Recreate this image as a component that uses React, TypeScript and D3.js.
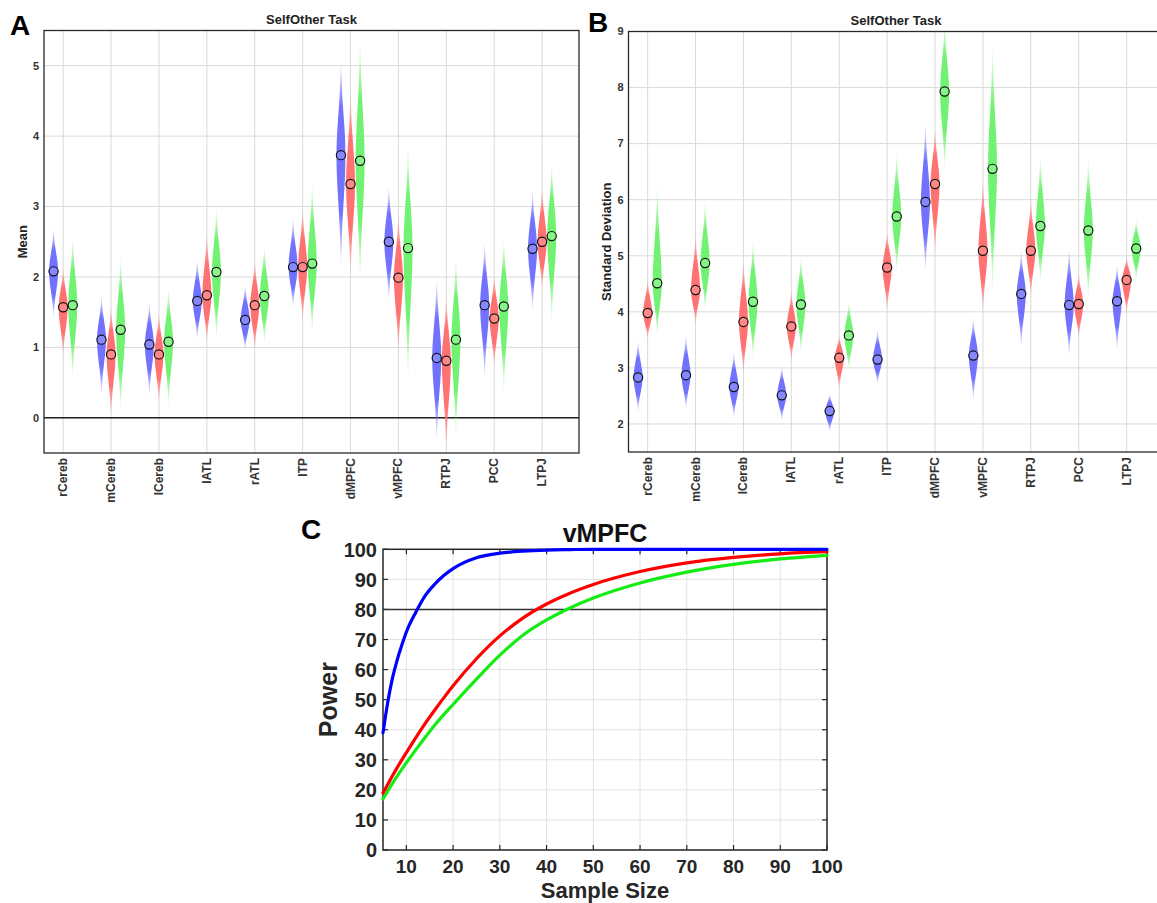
import { useEffect, useRef } from 'react';
import * as d3 from 'd3';

// ---- categories ----
const regions = ['rCereb', 'mCereb', 'lCereb', 'lATL', 'rATL', 'lTP', 'dMPFC', 'vMPFC', 'RTPJ', 'PCC', 'LTPJ'];

// ---- Panel A: Mean (point + violin low/high ends) ----
const meanBlueA = [2.08, 1.11, 1.04, 1.66, 1.39, 2.14, 3.73, 2.5, 0.85, 1.6, 2.4];
const meanRedA = [1.57, 0.9, 0.9, 1.74, 1.6, 2.14, 3.32, 1.99, 0.81, 1.41, 2.5];
const meanGreenA = [1.6, 1.25, 1.08, 2.07, 1.73, 2.19, 3.65, 2.41, 1.11, 1.58, 2.58];
const loBlueA = [1.4, 0.3, 0.3, 1.1, 0.95, 1.55, 2.1, 1.65, -0.35, 0.55, 1.5];
const hiBlueA = [2.7, 1.75, 1.65, 2.25, 1.9, 2.85, 5.1, 3.3, 2.0, 2.5, 3.25];
const loRedA = [0.85, 0.0, 0.2, 1.05, 0.95, 1.35, 2.0, 0.9, -0.5, 0.7, 1.8];
const hiRedA = [2.15, 1.6, 1.5, 2.65, 2.25, 3.0, 4.65, 2.9, 1.75, 2.05, 3.3];
const loGreenA = [0.55, 0.1, 0.15, 1.1, 1.05, 1.2, 1.9, 0.5, -0.3, 0.35, 1.35];
const hiGreenA = [2.6, 2.3, 1.85, 3.0, 2.45, 3.35, 5.4, 3.9, 2.3, 2.55, 3.65];

// ---- Panel B: Standard Deviation ----
const meanBlueB = [2.83, 2.87, 2.66, 2.51, 2.23, 3.15, 5.96, 3.22, 4.32, 4.12, 4.19];
const meanRedB = [3.98, 4.39, 3.82, 3.74, 3.18, 4.79, 6.28, 5.09, 5.09, 4.14, 4.57];
const meanGreenB = [4.51, 4.87, 4.18, 4.13, 3.58, 5.7, 7.93, 6.55, 5.53, 5.45, 5.13];
const loBlueB = [2.2, 2.25, 2.1, 2.05, 1.85, 2.7, 4.7, 2.4, 3.35, 3.2, 3.3];
const hiBlueB = [3.5, 3.6, 3.3, 3.05, 2.55, 3.7, 7.4, 3.9, 5.1, 5.15, 4.85];
const loRedB = [3.5, 3.75, 2.85, 3.1, 2.6, 4.0, 5.0, 3.95, 4.25, 3.5, 3.95];
const hiRedB = [4.6, 5.4, 4.95, 4.4, 3.6, 5.45, 7.3, 6.4, 6.05, 4.7, 5.0];
const loGreenB = [3.55, 4.0, 3.15, 3.25, 2.95, 4.7, 6.5, 4.3, 4.5, 4.25, 4.55];
const hiGreenB = [6.3, 6.0, 5.3, 5.0, 4.2, 6.85, 9.2, 8.8, 6.8, 6.75, 5.65];

// ---- Panel C: power curves ----
const sampleSizes = [5, 6, 7, 8, 9, 10, 12, 14, 16, 18, 20, 25, 30, 35, 40, 45, 50, 60, 70, 80, 90, 100];
const powerBlue = [39, 49, 57, 63, 68, 72.5, 79, 84.5, 88.3, 91.3, 93.6, 97.2, 98.7, 99.4, 99.75, 99.9, 100, 100, 100, 100, 100, 100];
const powerRed = [19, 21.8, 24.6, 27.3, 29.9, 32.4, 37.3, 42, 46.4, 50.6, 54.6, 63.6, 71.2, 77.2, 81.8, 85.4, 88.3, 92.6, 95.5, 97.3, 98.5, 99.2];
const powerGreen = [17, 19.6, 22.1, 24.5, 26.8, 29, 33.3, 37.4, 41.4, 45.0, 48.4, 56.8, 64.8, 71.5, 76.5, 80.5, 83.8, 88.8, 92.4, 95, 96.8, 98];

const FONT = '"Liberation Sans", Arial, Helvetica, sans-serif';
const violinColors = ['#7272ff', '#ff7272', '#72f272'];
const dotColors = ['#8787ff', '#ff8787', '#87f587'];
const offsets = [-0.2, 0, 0.2];

const App = () => {
  const svgRef = useRef<SVGSVGElement>(null);

  useEffect(() => {
    if (!svgRef.current) return;
    const svg = d3.select(svgRef.current);
    svg.selectAll('*').remove();
    const defs = svg.append('defs');

    const drawViolinPanel = (cfg: any) => {
      const { id, left, right, top, bottom, yDomain, yTicks, title, yLabel, yLabelX, letter, letterX, letterY, series, zeroLine } = cfg;
      const x = d3.scaleLinear().domain([0.6, 11.77]).range([left, right]);
      const y = d3.scaleLinear().domain(yDomain).range([bottom, top]);
      const g = svg.append('g');

      defs.append('clipPath').attr('id', `clip-${id}`)
        .append('rect').attr('x', left).attr('y', top).attr('width', right - left).attr('height', bottom - top);

      // grid
      g.append('g').selectAll('line').data(yTicks).enter().append('line')
        .attr('x1', left).attr('x2', right)
        .attr('y1', (d: number) => y(d)).attr('y2', (d: number) => y(d))
        .attr('stroke', '#dadada').attr('stroke-width', 1);
      g.append('g').selectAll('line').data(regions).enter().append('line')
        .attr('x1', (_d: string, i: number) => x(i + 1)).attr('x2', (_d: string, i: number) => x(i + 1))
        .attr('y1', top).attr('y2', bottom)
        .attr('stroke', '#dadada').attr('stroke-width', 1);

      if (zeroLine) {
        g.append('line').attr('x1', left).attr('x2', right)
          .attr('y1', y(0)).attr('y2', y(0))
          .attr('stroke', '#222').attr('stroke-width', 1.5);
      }

      // violins
      const vg = g.append('g').attr('clip-path', `url(#clip-${id})`);
      const W = 4.5;
      series.forEach((s: any, si: number) => {
        regions.forEach((_r, i) => {
          const cx = x(i + 1 + offsets[si]);
          const m = s.mean[i], lo = s.lo[i], hi = s.hi[i];
          const sUp = (hi - m) / 2.5, sDn = (m - lo) / 2.5;
          const pts = d3.range(41).map(k => {
            const v = hi - (hi - lo) * k / 40;
            const sd = v >= m ? sUp : sDn;
            const z = (v - m) / sd;
            return { v, w: W * Math.exp(-0.5 * z * z) };
          });
          const gid = `grad-${id}-${si}-${i}`;
          const fm = (y(m) - y(hi)) / (y(lo) - y(hi));
          const grad = defs.append('linearGradient').attr('id', gid)
            .attr('gradientUnits', 'userSpaceOnUse')
            .attr('x1', 0).attr('x2', 0).attr('y1', y(hi)).attr('y2', y(lo));
          [[0, 0], [fm * 0.5, 1], [fm + (1 - fm) * 0.5, 1], [1, 0]].forEach(([o, op]) => {
            grad.append('stop').attr('offset', o).attr('stop-color', violinColors[si]).attr('stop-opacity', op);
          });
          const area = d3.area<any>()
            .y(p => y(p.v))
            .x0(p => cx - p.w)
            .x1(p => cx + p.w)
            .curve(d3.curveBasis);
          vg.append('path').attr('d', area(pts)).attr('fill', `url(#${gid})`);
        });
      });

      // mean points
      series.forEach((s: any, si: number) => {
        vg.append('g').selectAll('circle').data(s.mean).enter().append('circle')
          .attr('cx', (_d: number, i: number) => x(i + 1 + offsets[si]))
          .attr('cy', (d: number) => y(d))
          .attr('r', 4.6)
          .attr('fill', dotColors[si])
          .attr('stroke', '#111')
          .attr('stroke-width', 1.2);
      });

      // frame
      g.append('rect').attr('x', left).attr('y', top).attr('width', right - left).attr('height', bottom - top)
        .attr('fill', 'none').attr('stroke', '#2a2a2a').attr('stroke-width', 1.3);

      // tick labels
      g.append('g').selectAll('text').data(yTicks).enter().append('text')
        .attr('x', left - 5).attr('y', (d: number) => y(d)).attr('dy', '0.35em')
        .attr('text-anchor', 'end')
        .style('font-family', FONT).style('font-size', '11px').style('font-weight', 'bold').style('fill', '#333')
        .text((d: number) => d);

      g.append('g').selectAll('text').data(regions).enter().append('text')
        .attr('transform', (_d: string, i: number) => `translate(${x(i + 1) + 4},${bottom + 5}) rotate(-90)`)
        .attr('text-anchor', 'end')
        .style('font-family', FONT).style('font-size', '12px').style('font-weight', 'bold').style('fill', '#333')
        .text((d: string) => d);

      // title & labels
      g.append('text').attr('x', (left + 535 / 2)).attr('y', top - 7)
        .attr('text-anchor', 'middle')
        .style('font-family', FONT).style('font-size', '13px').style('font-weight', 'bold').style('fill', '#222')
        .text(title);
      g.append('text').attr('transform', `translate(${yLabelX},${(top + bottom) / 2}) rotate(-90)`)
        .attr('text-anchor', 'middle')
        .style('font-family', FONT).style('font-size', '13px').style('font-weight', 'bold').style('fill', '#222')
        .text(yLabel);
      svg.append('text').attr('x', letterX).attr('y', letterY)
        .style('font-family', FONT).style('font-size', '28px').style('font-weight', 'bold').style('fill', '#000')
        .text(letter);
    };

    drawViolinPanel({
      id: 'A', left: 44, right: 579, top: 30.5, bottom: 453,
      yDomain: [-0.5, 5.5], yTicks: [0, 1, 2, 3, 4, 5],
      title: 'SelfOther Task', yLabel: 'Mean', yLabelX: 27,
      letter: 'A', letterX: 10, letterY: 35, zeroLine: true,
      series: [
        { mean: meanBlueA, lo: loBlueA, hi: hiBlueA },
        { mean: meanRedA, lo: loRedA, hi: hiRedA },
        { mean: meanGreenA, lo: loGreenA, hi: hiGreenA },
      ],
    });

    drawViolinPanel({
      id: 'B', left: 628.5, right: 1163.5, top: 31.5, bottom: 452,
      yDomain: [1.5, 9], yTicks: [2, 3, 4, 5, 6, 7, 8, 9],
      title: 'SelfOther Task', yLabel: 'Standard Deviation', yLabelX: 611,
      letter: 'B', letterX: 588, letterY: 32, zeroLine: false,
      series: [
        { mean: meanBlueB, lo: loBlueB, hi: hiBlueB },
        { mean: meanRedB, lo: loRedB, hi: hiRedB },
        { mean: meanGreenB, lo: loGreenB, hi: hiGreenB },
      ],
    });

    // ---- Panel C ----
    const cl = 383, cr = 827, ct = 549.3, cb = 850;
    const x = d3.scaleLinear().domain([5, 100]).range([cl, cr]);
    const y = d3.scaleLinear().domain([0, 100]).range([cb, ct]);
    const gc = svg.append('g');
    const xTicks = d3.range(10, 101, 10);
    const yTicks = d3.range(0, 101, 10);

    gc.append('g').selectAll('line').data(xTicks).enter().append('line')
      .attr('x1', (d: number) => x(d)).attr('x2', (d: number) => x(d)).attr('y1', ct).attr('y2', cb)
      .attr('stroke', '#e2e2e2').attr('stroke-width', 1);
    gc.append('g').selectAll('line').data(yTicks).enter().append('line')
      .attr('x1', cl).attr('x2', cr).attr('y1', (d: number) => y(d)).attr('y2', (d: number) => y(d))
      .attr('stroke', '#e2e2e2').attr('stroke-width', 1);

    // inward ticks
    const tk = 5;
    xTicks.forEach(d => {
      gc.append('line').attr('x1', x(d)).attr('x2', x(d)).attr('y1', cb).attr('y2', cb - tk).attr('stroke', '#262626').attr('stroke-width', 1.2);
      gc.append('line').attr('x1', x(d)).attr('x2', x(d)).attr('y1', ct).attr('y2', ct + tk).attr('stroke', '#262626').attr('stroke-width', 1.2);
    });
    yTicks.forEach(d => {
      gc.append('line').attr('x1', cl).attr('x2', cl + tk).attr('y1', y(d)).attr('y2', y(d)).attr('stroke', '#262626').attr('stroke-width', 1.2);
      gc.append('line').attr('x1', cr).attr('x2', cr - tk).attr('y1', y(d)).attr('y2', y(d)).attr('stroke', '#262626').attr('stroke-width', 1.2);
    });

    gc.append('line').attr('x1', cl).attr('x2', cr).attr('y1', y(80)).attr('y2', y(80))
      .attr('stroke', '#333').attr('stroke-width', 1.5);

    gc.append('rect').attr('x', cl).attr('y', ct).attr('width', cr - cl).attr('height', cb - ct)
      .attr('fill', 'none').attr('stroke', '#262626').attr('stroke-width', 1.5);

    const line = d3.line<number>()
      .x((_d, i) => x(sampleSizes[i]))
      .y(d => y(d))
      .curve(d3.curveMonotoneX);
    [[powerGreen, '#14ec14'], [powerRed, '#ff0000'], [powerBlue, '#0000ff']].forEach(([vals, col]) => {
      gc.append('path').attr('d', line(vals as number[])).attr('fill', 'none')
        .attr('stroke', col as string).attr('stroke-width', 3.2).attr('stroke-linecap', 'round');
    });

    gc.append('g').selectAll('text').data(yTicks).enter().append('text')
      .attr('x', cl - 6).attr('y', (d: number) => y(d)).attr('dy', '0.36em').attr('text-anchor', 'end')
      .style('font-family', FONT).style('font-size', '20px').style('font-weight', 'bold').style('fill', '#262626')
      .text((d: number) => d);
    gc.append('g').selectAll('text').data(xTicks).enter().append('text')
      .attr('x', (d: number) => x(d)).attr('y', cb + 23).attr('text-anchor', 'middle')
      .style('font-family', FONT).style('font-size', '19px').style('font-weight', 'bold').style('fill', '#262626')
      .text((d: number) => d);

    gc.append('text').attr('x', (cl + cr) / 2).attr('y', 542).attr('text-anchor', 'middle')
      .style('font-family', FONT).style('font-size', '25px').style('font-weight', 'bold').style('fill', '#111')
      .text('vMPFC');
    gc.append('text').attr('x', (cl + cr) / 2).attr('y', 898).attr('text-anchor', 'middle')
      .style('font-family', FONT).style('font-size', '22px').style('font-weight', 'bold').style('fill', '#262626')
      .text('Sample Size');
    gc.append('text').attr('transform', `translate(337,${(ct + cb) / 2}) rotate(-90)`).attr('text-anchor', 'middle')
      .style('font-family', FONT).style('font-size', '25px').style('font-weight', 'bold').style('fill', '#262626')
      .text('Power');
    svg.append('text').attr('x', 301).attr('y', 539)
      .style('font-family', FONT).style('font-size', '28px').style('font-weight', 'bold').style('fill', '#000')
      .text('C');
  }, []);

  return (
    <svg
      ref={svgRef}
      width={1157}
      height={903}
      style={{ position: 'absolute', left: 0, top: 0, background: '#fff' }}
    />
  );
};

export default App;
